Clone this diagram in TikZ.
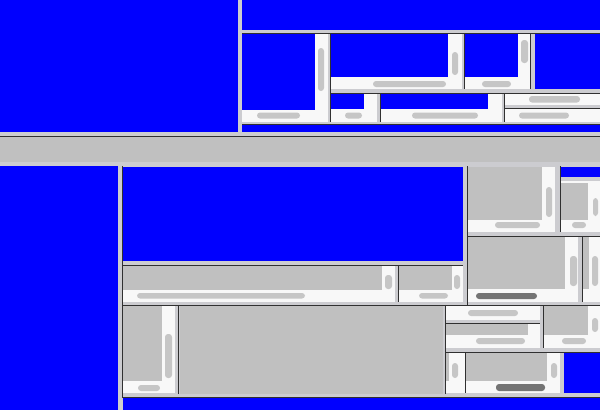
\documentclass[tikz,border=0pt]{standalone}
\definecolor{paneblue}{HTML}{0000FF}
\definecolor{sepc}{HTML}{CCCCD0}
\definecolor{gc}{HTML}{C0C0C0}
\definecolor{trackc}{HTML}{F8F8F8}
\definecolor{thumbc}{HTML}{C6C6C6}
\definecolor{dthumbc}{HTML}{747474}
\definecolor{dkc}{HTML}{303030}
\tikzset{
  bluep/.style={fill=paneblue},
  sep/.style={fill=sepc},
  content/.style={fill=gc},
  track/.style={fill=trackc},
  thumb/.style={fill=thumbc, rounded corners=3pt},
  darkthumb/.style={fill=dthumbc, rounded corners=3pt},
  dk/.style={draw=dkc, line width=0.8pt},
}
\begin{document}
\begin{tikzpicture}[x=1pt,y=-1pt]
\useasboundingbox (0,0) rectangle (600,410);
\fill[sep] (0,0) rectangle (600,410);
% top-left pane
\fill[bluep] (0,0) rectangle (238,132);
% top-right region
\fill[bluep] (242,0) rectangle (600,30);
\draw[dk] (242,33.5) -- (600,33.5);
% pane 1
\fill[bluep] (242,34) rectangle (315,110);
\fill[track] (315,34) rectangle (328,122);
\fill[track] (242,110) rectangle (315,122);
\fill[thumb] (318,48) rectangle (324,91);
\fill[thumb] (257,112.5) rectangle (300,118.5);
\draw[dk] (330.5,34) -- (330.5,122);
% pane A
\fill[bluep] (331,34) rectangle (448,77);
\fill[track] (448,34) rectangle (462,89);
\fill[track] (331,77) rectangle (448,89);
\fill[thumb] (452,52) rectangle (458,75);
\fill[thumb] (373,81) rectangle (446,87);
\draw[dk] (464.5,34) -- (464.5,89);
% pane B
\fill[bluep] (465,34) rectangle (518,77);
\fill[track] (518,34) rectangle (530,89);
\fill[track] (465,77) rectangle (518,89);
\fill[thumb] (521,40) rectangle (528,63);
\fill[thumb] (482,81) rectangle (511,87);
\draw[dk] (530.5,34) -- (530.5,89);
% pane C
\fill[bluep] (535,34) rectangle (600,89);
\draw[dk] (331,93.5) -- (600,93.5);
% pane D
\fill[bluep] (331,94) rectangle (364,109);
\fill[track] (364,94) rectangle (377,122);
\fill[track] (331,109) rectangle (364,122);
\fill[thumb] (345,112.5) rectangle (362,118.5);
\draw[dk] (380.5,94) -- (380.5,122);
% pane E
\fill[bluep] (381,94) rectangle (488,109);
\fill[track] (488,94) rectangle (502,122);
\fill[track] (381,109) rectangle (488,122);
\fill[thumb] (412,112.5) rectangle (478,118.5);
\draw[dk] (504.5,94) -- (504.5,122);
% pane F
\fill[track] (505,94) rectangle (600,105);
\fill[thumb] (529,96) rectangle (580,102.5);
\draw[dk] (505,108.5) -- (600,108.5);
\fill[track] (505,109) rectangle (600,122);
\fill[thumb] (519,112.5) rectangle (569,118.5);
\draw[dk] (242,124.5) -- (600,124.5);
\fill[bluep] (242,125) rectangle (600,132);
% horizontal band
\fill[content] (0,137) rectangle (600,162);
\draw[dk] (0,136.5) -- (600,136.5);
% bottom-left pane
\fill[bluep] (0,166) rectangle (118,410);
% bottom-right region
\draw[dk] (122.5,166) -- (122.5,398);
\fill[bluep] (123,167) rectangle (463,261);
\draw[dk] (123,265.5) -- (463,265.5);
% pane G
\fill[content] (123,266) rectangle (382,290);
\fill[track] (382,266) rectangle (395,302);
\fill[track] (123,290) rectangle (382,302);
\fill[thumb] (385,275) rectangle (392,289);
\fill[thumb] (137,293) rectangle (305,298.5);
\draw[dk] (398.5,266) -- (398.5,302);
% pane H
\fill[content] (399,266) rectangle (452,290);
\fill[track] (452,266) rectangle (463,302);
\fill[track] (399,290) rectangle (452,302);
\fill[thumb] (454,275) rectangle (460,289);
\fill[thumb] (419,293) rectangle (448,298.5);
\draw[dk] (467.5,166) -- (467.5,305);
% pane I
\fill[content] (468,167) rectangle (542,220);
\fill[track] (542,167) rectangle (555,232);
\fill[track] (468,220) rectangle (542,232);
\fill[thumb] (546,187) rectangle (552,217);
\fill[thumb] (495,222) rectangle (540,228);
\draw[dk] (560.5,166) -- (560.5,232);
% pane J
\fill[bluep] (561,167) rectangle (600,177);
\fill[track] (561,181) rectangle (600,232);
\fill[content] (561,183) rectangle (588,220);
\fill[thumb] (593,198) rectangle (598,216);
\fill[thumb] (572,222) rectangle (586,228);
\draw[dk] (468,236.5) -- (600,236.5);
% pane K
\fill[content] (468,237) rectangle (565,289);
\fill[track] (565,237) rectangle (578,302);
\fill[track] (468,289) rectangle (565,302);
\fill[thumb] (570,256) rectangle (577,286);
\fill[darkthumb] (476,293) rectangle (537,299);
\draw[dk] (582.5,237) -- (582.5,302);
% pane L
\fill[track] (583,237) rectangle (600,302);
\fill[content] (583,237) rectangle (589,289);
\fill[thumb] (592,256) rectangle (598,286);
\draw[dk] (123,305.5) -- (600,305.5);
% pane M
\fill[content] (123,306) rectangle (162,381);
\fill[track] (162,306) rectangle (175,393);
\fill[track] (123,381) rectangle (162,393);
\fill[thumb] (165,334) rectangle (172,378);
\fill[thumb] (138,385) rectangle (160,391);
\draw[dk] (178.5,306) -- (178.5,394);
% pane N
\fill[content] (180,306) rectangle (443,394);
\draw[dk] (445.5,306) -- (445.5,394);
% pane O
\fill[track] (446,306) rectangle (540,320);
\fill[thumb] (468,310) rectangle (518,316);
\draw[dk] (446,323.5) -- (540,323.5);
\fill[track] (446,324) rectangle (540,348);
\fill[content] (446,324) rectangle (528,335);
\fill[thumb] (476,338) rectangle (525,344);
\draw[dk] (543.5,306) -- (543.5,348);
% pane P
\fill[content] (544,306) rectangle (588,335);
\fill[track] (588,306) rectangle (600,348);
\fill[track] (544,335) rectangle (588,348);
\fill[thumb] (592,318) rectangle (598,332);
\fill[thumb] (562,338) rectangle (586,344);
\draw[dk] (446,352.5) -- (600,352.5);
% pane Q
\fill[track] (446,353) rectangle (465,393);
\fill[content] (446,353) rectangle (448.5,381);
\fill[thumb] (452,363) rectangle (458,378);
\draw[dk] (465.5,353) -- (465.5,393);
% pane R
\fill[content] (466,353) rectangle (547,381);
\fill[track] (547,353) rectangle (560,393);
\fill[track] (466,381) rectangle (547,393);
\fill[thumb] (551,363) rectangle (557,378);
\fill[darkthumb] (496,384) rectangle (545,391);
% pane S
\fill[bluep] (564,353) rectangle (600,393);
\draw[dk] (123,397.5) -- (600,397.5);
\fill[bluep] (123,398) rectangle (600,410);
\end{tikzpicture}
\end{document}
